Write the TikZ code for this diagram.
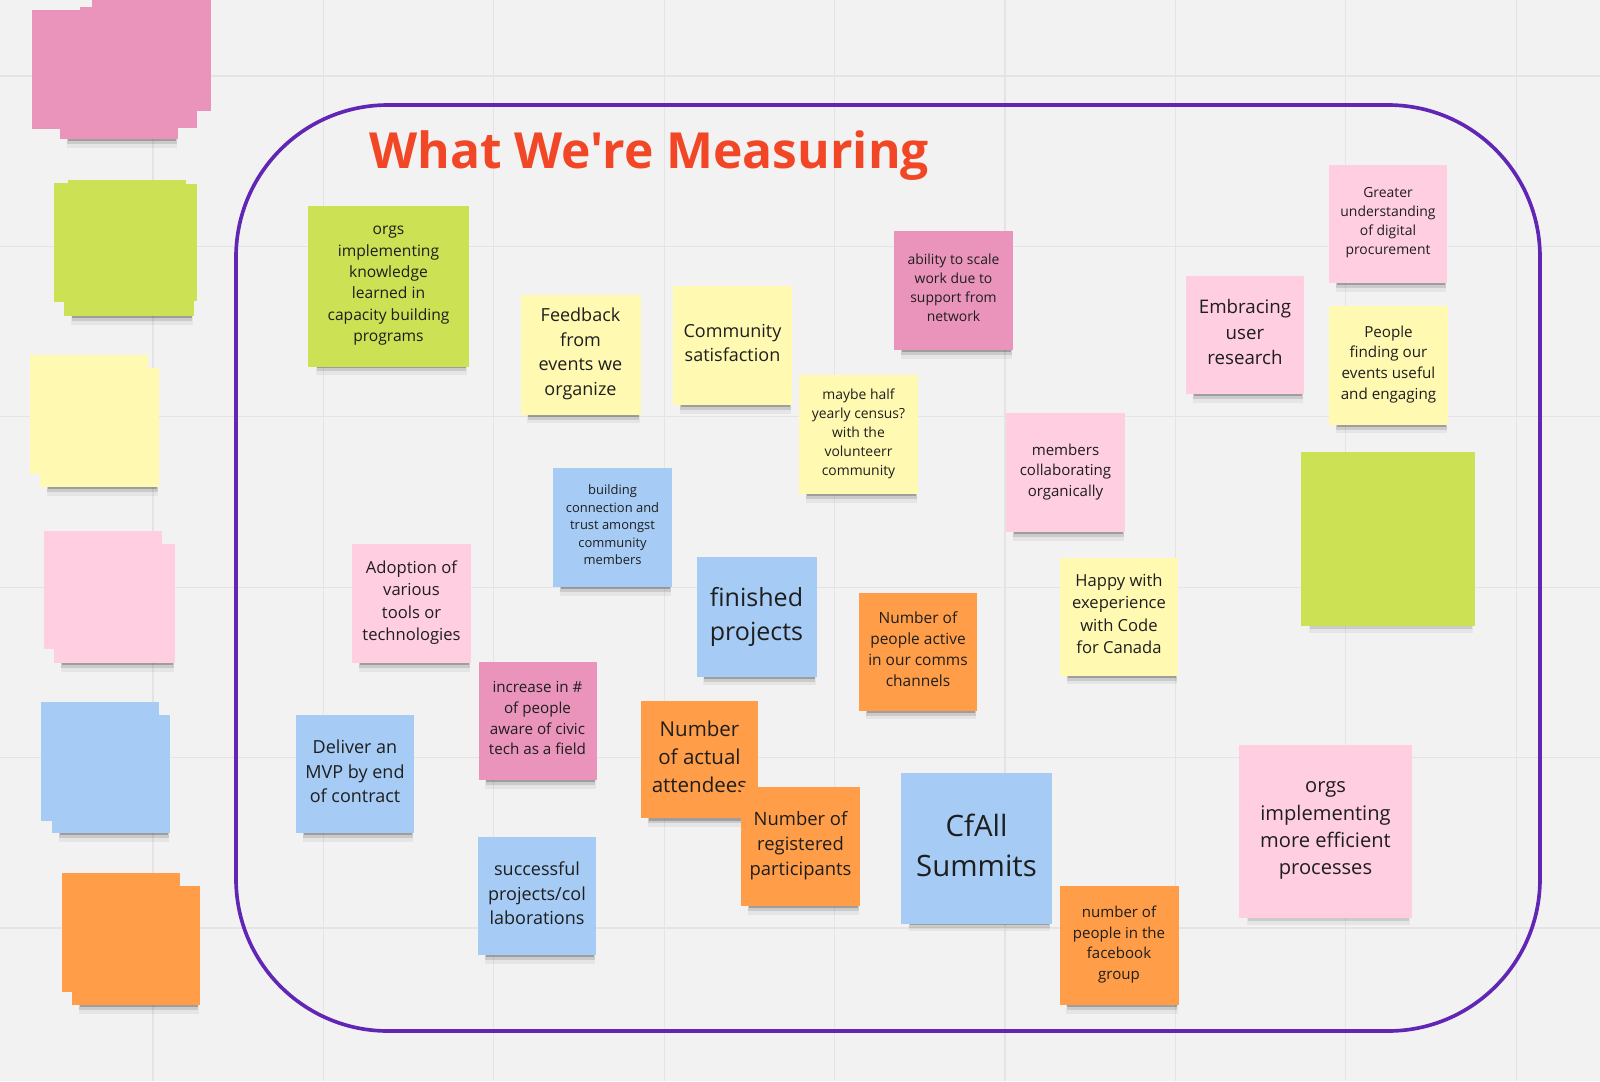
\documentclass[tikz,border=0pt]{standalone}
\usepackage{fontspec}
\setmainfont{Open Sans}
\newfontfamily\headfont{Open Sans}
\usetikzlibrary{positioning, shadows}

\definecolor{BoardGray}{RGB}{242,242,242}
\definecolor{GridGray}{RGB}{228,228,228}
\definecolor{FramePurple}{RGB}{98,38,180}
\definecolor{TitleRed}{RGB}{242,71,38}
\definecolor{NoteYellow}{RGB}{255,249,177}
\definecolor{NoteLime}{RGB}{204,225,84}
\definecolor{NotePink}{RGB}{255,206,224}
\definecolor{NoteRose}{RGB}{234,148,188}
\definecolor{NoteBlue}{RGB}{166,204,245}
\definecolor{NoteOrange}{RGB}{255,157,72}
\definecolor{NoteText}{RGB}{30,30,30}

\tikzset{
  padshadow/.style={
    general shadow={fill=black, opacity=0.05, shadow scale=0.94, shadow xshift=0.8mm, shadow yshift=-3.3mm},
    general shadow={fill=black, opacity=0.11, shadow scale=0.93, shadow xshift=0.8mm, shadow yshift=-2.5mm},
    general shadow={fill=black, opacity=0.22, shadow scale=0.92, shadow xshift=0.8mm, shadow yshift=-1.95mm}},
  sticky/.style={rectangle, fill=#1, inner sep=0pt, align=center, text=NoteText, text depth=0.38em, padshadow},
  notesize/.style={minimum width=#1*0.025cm, minimum height=#1*0.025cm},
  gridline/.style={GridGray, line width=0.9pt},
  frame/.style={FramePurple, line width=2.6pt, rounded corners=3.8cm},
}

\begin{document}
\begin{tikzpicture}[x=0.025cm, y=-0.025cm]
  % board
  \fill[BoardGray] (0,0) rectangle (1600,1081);
  \useasboundingbox (0,0) rectangle (1600,1081);
  \foreach \gx in {0,...,8}
    \draw[gridline] ({153+170.4*\gx},0) -- ({153+170.4*\gx},1081);
  \foreach \gy in {0,...,5}
    \draw[gridline] (0,{76+170.4*\gy}) -- (1600,{76+170.4*\gy});

  % stacks on the left
  \fill[NoteRose] (92,-2) rectangle (211,111);
  \fill[NoteRose] (80,7) rectangle (197,128);
  \fill[NoteRose, padshadow] (60,20) rectangle (178,139);
  \fill[NoteRose] (32,10) rectangle (157,129);

  \fill[NoteLime] (54,183) rectangle (172,302);
  \fill[NoteLime, padshadow] (64,196) rectangle (194,316);
  \fill[NoteLime] (68,180) rectangle (186,298);
  \fill[NoteLime] (79,184) rectangle (197,301);

  \fill[NoteYellow] (30,355) rectangle (148,474);
  \fill[NoteYellow, padshadow] (40,368) rectangle (159,487);

  \fill[NotePink] (44,531) rectangle (162,649);
  \fill[NotePink, padshadow] (54,544) rectangle (175,663);

  \fill[NoteBlue] (41,702) rectangle (159,821);
  \fill[NoteBlue, padshadow] (52,715) rectangle (170,833);

  \fill[NoteOrange] (62,873) rectangle (180,992);
  \fill[NoteOrange, padshadow] (72,886) rectangle (200,1005);

  % frame and title
  \draw[frame] (236,105) rectangle (1540,1031);
  \node[anchor=base west, inner sep=0pt, text=TitleRed, font=\headfont\bfseries\fontsize{35.4}{42}\selectfont]
    (heading) at (369,168) {What We're Measuring};

  % notes inside the frame
  \node[sticky=NoteLime, notesize=161, font=\fontsize{11.1}{15.2}\selectfont] (knowledge) at (388.5,286.5)
    {orgs\\implementing\\knowledge\\learned in\\capacity building\\programs};
  \node[sticky=NoteYellow, notesize=120, font=\fontsize{12.8}{17.4}\selectfont] (feedback) at (580.5,354.5)
    {Feedback\\from\\events we\\organize};
  \node[sticky=NoteYellow, notesize=119, font=\fontsize{12.8}{17.3}\selectfont] (satisfaction) at (732.5,345.5)
    {Community\\satisfaction};
  \node[sticky=NoteRose, notesize=119, font=\fontsize{9.9}{13.5}\selectfont] (scalework) at (953.5,290.5)
    {ability to scale\\work due to\\support from\\network};
  \node[sticky=NoteYellow, notesize=119, font=\fontsize{9.9}{13.5}\selectfont] (census) at (858.5,434.5)
    {maybe half\\yearly census?\\with the\\volunteerr\\community};
  \node[sticky=NotePink, notesize=118, font=\fontsize{9.9}{13.5}\selectfont] (procurement) at (1388,224)
    {Greater\\understanding\\of digital\\procurement};
  \node[sticky=NotePink, notesize=118, font=\fontsize{13.3}{18.1}\selectfont] (userresearch) at (1245,335)
    {Embracing\\user\\research};
  \node[sticky=NoteYellow, notesize=119, font=\fontsize{10.8}{14.7}\selectfont] (usefulevents) at (1388.5,365)
    {People\\finding our\\events useful\\and engaging};
  \node[sticky=NotePink, notesize=119, font=\fontsize{10.7}{14.6}\selectfont] (collab) at (1065.5,472.5)
    {members\\collaborating\\organically};
  \node[sticky=NoteLime, notesize=174] (blanklime) at (1388,539) {};
  \node[sticky=NoteYellow, notesize=118, font=\fontsize{11.8}{16}\selectfont] (happycfc) at (1119,616.5)
    {Happy with\\exeperience\\with Code\\for Canada};
  \node[sticky=NoteBlue, notesize=120, font=\fontsize{17.8}{24.2}\selectfont] (finished) at (756.5,616.5)
    {finished\\projects};
  \node[sticky=NoteOrange, notesize=118, font=\fontsize{11}{14.9}\selectfont] (commsactive) at (918,651.5)
    {Number of\\people active\\in our comms\\channels};
  \node[sticky=NoteBlue, notesize=119, font=\fontsize{9.2}{12.4}\selectfont] (trust) at (612.5,527.5)
    {building\\connection and\\trust amongst\\community\\members};
  \node[sticky=NotePink, notesize=119, font=\fontsize{11.8}{16}\selectfont] (adoption) at (411.5,603.5)
    {Adoption of\\various\\tools or\\technologies};
  \node[sticky=NoteRose, notesize=118, font=\fontsize{10.8}{14.7}\selectfont] (civicaware) at (537.5,721)
    {increase in \#\\of people\\aware of civic\\tech as a field};
  \node[sticky=NoteBlue, notesize=118, font=\fontsize{12.8}{17.4}\selectfont] (mvp) at (355,774)
    {Deliver an\\MVP by end\\of contract};
  \node[sticky=NoteOrange, notesize=117, font=\fontsize{14.6}{19.9}\selectfont] (attendees) at (699.5,759.5)
    {Number\\of actual\\attendees};
  \node[sticky=NoteOrange, notesize=119, font=\fontsize{13.1}{17.8}\selectfont] (registered) at (800.5,846.5)
    {Number of\\registered\\participants};
  \node[sticky=NoteBlue, notesize=118, font=\fontsize{12.8}{17.4}\selectfont] (collabprojects) at (537,896)
    {successful\\projects/col\\laborations};
  \node[sticky=NoteBlue, notesize=151, font=\fontsize{20.9}{28.5}\selectfont] (summits) at (976.5,848)
    {CfAll\\Summits};
  \node[sticky=NoteOrange, notesize=119, font=\fontsize{10.7}{14.6}\selectfont] (facebook) at (1119,945.5)
    {number of\\people in the\\facebook\\group};
  \node[sticky=NotePink, notesize=173, font=\fontsize{14.3}{19.4}\selectfont] (efficient) at (1325.5,831)
    {orgs\\implementing\\more efficient\\processes};
\end{tikzpicture}
\end{document}
